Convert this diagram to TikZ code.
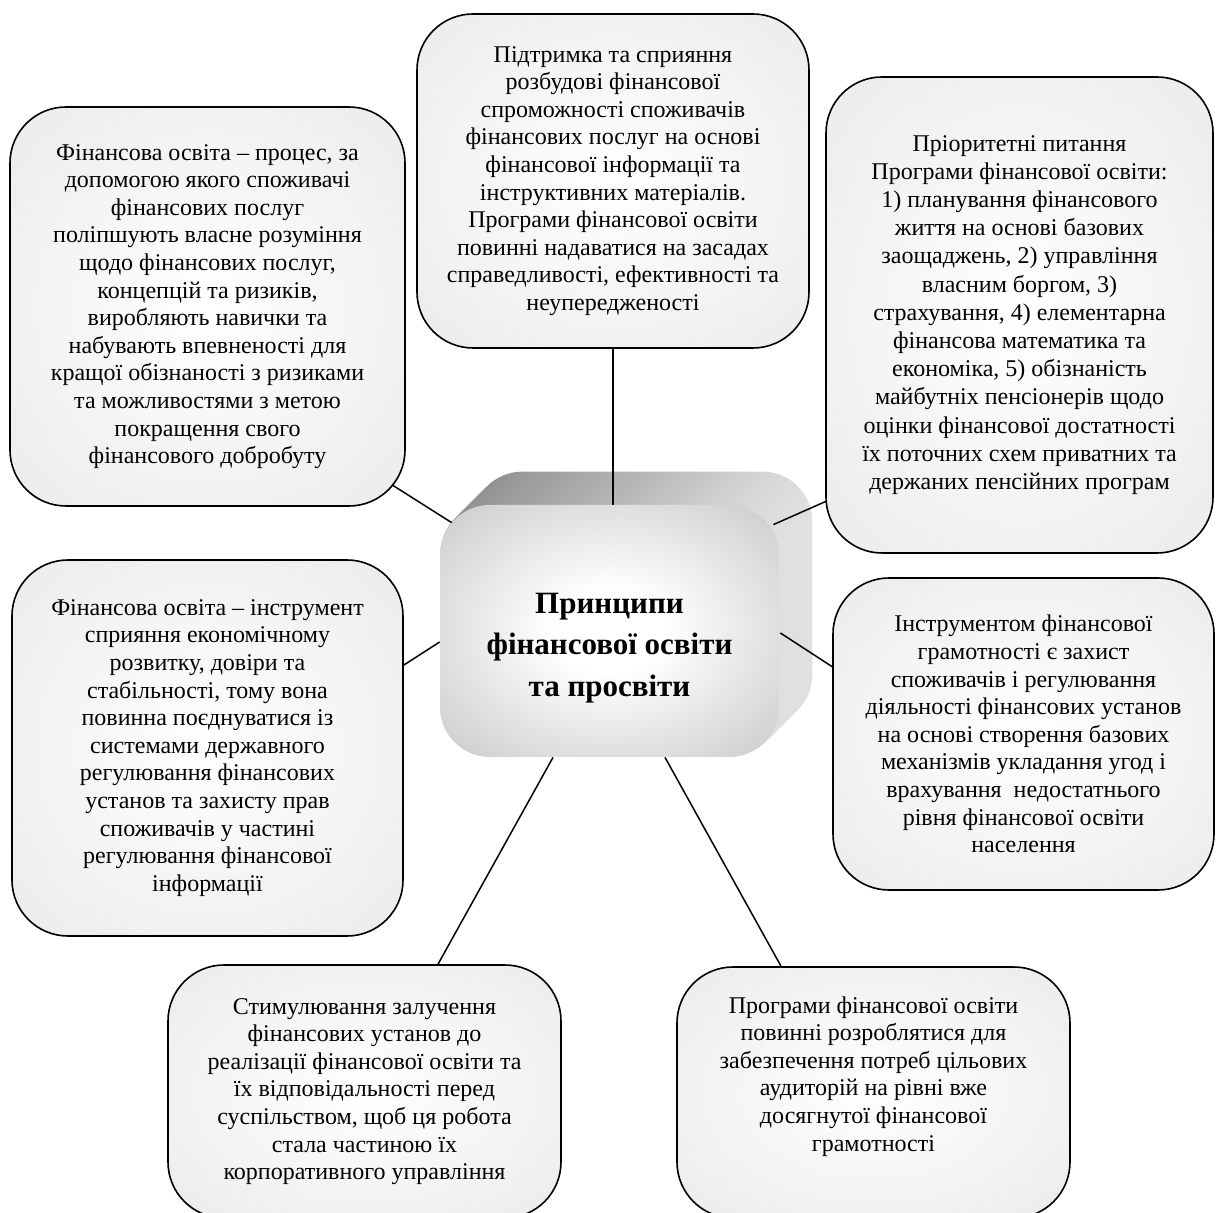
\documentclass[tikz,border=0pt]{standalone}
\usepackage{fontspec}
\setmainfont{Liberation Serif}
\usetikzlibrary{calc,backgrounds}
\pgfdeclareradialshading{boxglow}{\pgfpoint{0bp}{0bp}}{color(0bp)=(white); color(50bp)=(black!11); color(70bp)=(black!13)}
\pgfdeclareradialshading{coreglow}{\pgfpoint{0bp}{0bp}}{color(0bp)=(white); color(8bp)=(white); color(48bp)=(black!30); color(70bp)=(black!33)}
\tikzset{
  note/.style={draw=black,line width=0.8pt,rounded corners=28pt,shade,shading=boxglow,
    align=center,inner sep=0pt,font=\fontsize{12}{13.8}\selectfont},
  boxsize/.style 2 args={minimum width=#1*0.5pt,minimum height=#2*0.5pt},
  core face/.style={shade,shading=coreglow,rounded corners=25pt,align=center,
    inner sep=0pt,font=\fontsize{15.5}{20.7}\selectfont\bfseries},
  extrude/.style={rounded corners=25pt,left color=black!45,right color=black!12},
  link/.style={draw=black,line width=0.75pt},
}
\begin{document}
\begin{tikzpicture}[x=0.5pt,y=-0.5pt]
  \useasboundingbox (0,0) rectangle (1216,1213);
  % principles around the centre
  \node[note,boxsize={395}{399}] (A) at (207.5,306.5) {Фінансова освіта – процес, за\\допомогою якого споживачі\\фінансових послуг\\поліпшують власне розуміння\\щодо фінансових послуг,\\концепцій та ризиків,\\виробляють навички та\\набувають впевненості для\\кращої обізнаності з ризиками\\та можливостями з метою\\покращення свого\\фінансового добробуту};
  \node[note,boxsize={392}{334}] (B) at (613,181) {Підтримка та сприяння\\розбудові фінансової\\спроможності споживачів\\фінансових послуг на основі\\фінансової інформації та\\інструктивних матеріалів.\\Програми фінансової освіти\\повинні надаватися на засадах\\справедливості, ефективності та\\неупередженості};
  \node[note,boxsize={387}{476},font=\fontsize{12}{14.1}\selectfont] (C) at (1019.5,315) {Пріоритетні питання\\Програми фінансової освіти:\\1) планування фінансового\\життя на основі базових\\заощаджень, 2) управління\\власним боргом, 3)\\страхування, 4) елементарна\\фінансова математика та\\економіка, 5) обізнаність\\майбутніх пенсіонерів щодо\\оцінки фінансової достатності\\їх поточних схем приватних та\\держаних пенсійних програм};
  \node[note,boxsize={391}{376}] (D) at (207.5,748) {Фінансова освіта – інструмент\\сприяння економічному\\розвитку, довіри та\\стабільності, тому вона\\повинна поєднуватися із\\системами державного\\регулювання фінансових\\установ та захисту прав\\споживачів у частині\\регулювання фінансової\\інформації};
  \node[note,boxsize={381}{312}] (E) at (1023.5,734) {Інструментом фінансової\\грамотності є захист\\споживачів і регулювання\\діяльності фінансових установ\\на основі створення базових\\механізмів укладання угод і\\врахування~ недостатнього\\рівня фінансової освіти\\населення};
  \node[note,boxsize={393}{253}] (F) at (364.5,1091.5) {Стимулювання залучення\\фінансових установ до\\реалізації фінансової освіти та\\їх відповідальності перед\\суспільством, щоб ця робота\\стала частиною їх\\корпоративного управління};
  \node[note,boxsize={393}{251}] (G) at (873.5,1092.5) {Програми фінансової освіти\\повинні розроблятися для\\забезпечення потреб цільових\\аудиторій на рівні вже\\досягнутої фінансової\\грамотності\\[5pt]\mbox{}};
  % centre block
  \node[core face,boxsize={339}{252}] (core) at (609.5,631) {\mbox{}\\[6.3pt]Принципи\\фінансової освіти\\та просвіти};
  \begin{scope}[on background layer]
    \foreach \d in {33,32,...,1}
      \path[extrude] ([shift={(\d,-\d)}]core.south west) rectangle ([shift={(\d,-\d)}]core.north east);
    \draw[link] ([shift={(-17,-24)}]A.south east) -- ([shift={(12,18)}]core.north west);
    \draw[link] (B.south) -- (B.south |- core.north);
    \draw[link] ([shift={(2,-53)}]C.south west) -- ([shift={(-6,20)}]core.north east);
    \draw[link] ([shift={(-3,-81)}]D.east) -- ([shift={(0,11)}]core.west);
    \draw[link] ([shift={(2,-66)}]E.west) -- ([shift={(1,2)}]core.east);
    \draw[link] ([shift={(73.5,0)}]F.north) -- ([shift={(-56.5,0)}]core.south);
    \draw[link] ([shift={(-92.5,0)}]G.north) -- ([shift={(55.5,0)}]core.south);
  \end{scope}
\end{tikzpicture}
\end{document}
